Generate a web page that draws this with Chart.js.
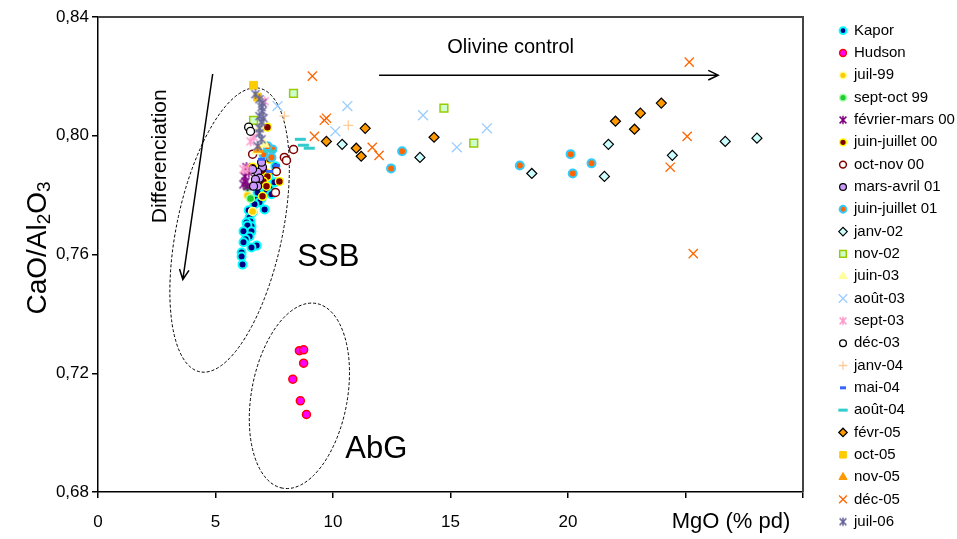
<!DOCTYPE html>
<html><head><meta charset="utf-8">
<script src="https://cdn.jsdelivr.net/npm/chart.js@4.4.0/dist/chart.umd.min.js"></script>
<style>html,body{margin:0;padding:0;background:#fff}canvas{display:block}</style>
</head><body>
<canvas id="c" width="957" height="539"></canvas>
<script>
// ---------------- DATA (MgO %, CaO/Al2O3) ----------------
const xTickLabels = ['0','5','10','15','20','',''];
const yTickLabels = ['0,68','0,72','0,76','0,80','0,84'];

const kapor = [[7.25,0.7867],[7.55,0.7897],[7.30,0.7830],[7.17,0.7819],[7.38,0.7803],[6.96,0.7789],[6.75,0.7786],[6.87,0.7776],[6.41,0.7749],[6.58,0.7742],[6.45,0.7725],[6.49,0.7711],[6.32,0.7708],[6.53,0.7695],[6.36,0.7698],[6.53,0.7678],[6.19,0.7678],[6.45,0.7661],[6.28,0.7651],[6.19,0.7641],[6.75,0.7630],[6.53,0.7624],[6.11,0.7607],[6.11,0.7593],[6.15,0.7566],[7.09,0.7752],[7.09,0.7836],[7.51,0.7843],[6.79,0.7809],[6.66,0.7769]];
const hudson = [[8.57,0.7276],[8.75,0.7279],[8.75,0.7234],[8.29,0.7180],[8.61,0.7107],[8.87,0.7061]];
const juil99 = [[6.58,0.7745],[6.36,0.7799],[6.62,0.7887]];
const septOct99 = [[6.49,0.7789],[6.36,0.7826]];
const fevMars00 = [[6.28,0.7846],[6.24,0.7863],[6.36,0.7830],[6.41,0.7877],[6.32,0.7894],[6.19,0.7836]];
const juinJuil00 = [[7.21,0.8029],[7.72,0.7846],[7.09,0.7880],[7.21,0.7863],[7.04,0.7846],[7.00,0.7796],[7.17,0.7830],[6.83,0.7863],[6.70,0.7843],[6.96,0.7904],[6.58,0.7894],[7.30,0.7921]];
const octNov00 = [[8.32,0.7954],[7.93,0.7927],[8.02,0.7917],[7.59,0.7880],[7.55,0.7809],[6.58,0.7938]];
const marsAvr01 = [[7.00,0.7894],[6.79,0.7877],[6.87,0.7857],[6.70,0.7853],[6.79,0.7830],[6.62,0.7830],[6.58,0.7887],[6.96,0.7911]];
const juinJuil01 = [[7.42,0.7954],[7.04,0.7938],[7.21,0.7965],[7.38,0.7927],[12.47,0.7890],[12.94,0.7948],[17.95,0.7900],[20.11,0.7938],[20.20,0.7873],[21.00,0.7907]];
const janv02 = [[10.39,0.7971],[13.70,0.7927],[18.46,0.7873],[21.72,0.7971],[24.44,0.7934],[26.69,0.7981],[28.04,0.7992],[21.55,0.7863]];
const nov02 = [[8.32,0.8143],[6.62,0.8052],[14.72,0.8093],[15.99,0.7975]];
const juin03 = [[6.87,0.8022],[7.09,0.7971],[6.75,0.7948]];
const aout03 = [[7.64,0.8100],[10.61,0.8100],[10.10,0.8015],[13.83,0.8069],[15.27,0.7961],[16.55,0.8025]];
const sept03 = [[7.09,0.8116],[6.62,0.7995],[6.49,0.7981],[6.36,0.7887],[6.19,0.7887]];
const dec03 = [[6.41,0.8029],[6.49,0.8015]];
const janv04 = [[10.65,0.8035],[7.93,0.8066]];
const mai04 = [[6.96,0.7921],[7.59,0.7900],[7.30,0.7880]];
const aout04 = [[8.61,0.7988],[8.74,0.7968],[8.99,0.7958],[7.30,0.7948]];
const fevr05 = [[9.72,0.7981],[10.99,0.7958],[11.20,0.7931],[11.37,0.8025],[14.30,0.7995],[22.02,0.8049],[22.83,0.8022],[23.08,0.8076],[23.97,0.8110]];
const oct05 = [[6.62,0.8170],[6.79,0.8130]];
const nov05 = [[6.83,0.7954]];
const dec05 = [[9.12,0.8201],[9.63,0.8052],[9.72,0.8059],[9.21,0.7998],[11.67,0.7961],[11.96,0.7934],[25.16,0.8248],[25.07,0.7998],[24.35,0.7894],[25.33,0.7603]];
const juil06 = [[6.87,0.8123],[7.00,0.8110],[6.96,0.8096],[7.00,0.8083],[6.87,0.8066],[7.04,0.8059],[6.96,0.8046],[6.87,0.8025],[6.87,0.8008],[6.96,0.7988],[6.79,0.7965],[6.70,0.8140]];

const seriesNames = ['Kapor','Hudson','juil-99','sept-oct 99','février-mars 00','juin-juillet 00','oct-nov 00','mars-avril 01','juin-juillet 01','janv-02','nov-02','juin-03','août-03','sept-03','déc-03','janv-04','mai-04','août-04','févr-05','oct-05','nov-05','déc-05','juil-06'];
const seriesData = [kapor,hudson,juil99,septOct99,fevMars00,juinJuil00,octNov00,marsAvr01,juinJuil01,janv02,nov02,juin03,aout03,sept03,dec03,janv04,mai04,aout04,fevr05,oct05,nov05,dec05,juil06];

// ---------------- STYLES ----------------
function asterisk(color, r, lw){
  const s = Math.ceil(2*r + lw + 2);
  const c = document.createElement('canvas'); c.width = s; c.height = s;
  const g = c.getContext('2d'); const m = s/2; const d = r*0.8;
  g.strokeStyle = color; g.lineWidth = lw; g.beginPath();
  g.moveTo(m-d,m-d); g.lineTo(m+d,m+d);
  g.moveTo(m-d,m+d); g.lineTo(m+d,m-d);
  g.moveTo(m,m-r); g.lineTo(m,m+r);
  g.stroke(); return c;
}
const seriesStyles = [
  {ps:'circle', r:4, bg:'#000080', bc:'#00FFFF', bw:2},
  {ps:'circle', r:4, bg:'#FF00FF', bc:'#FF0000', bw:1.5},
  {ps:'circle', r:4, bg:'#FFCC00', bc:'#FFFF99', bw:1.5},
  {ps:'circle', r:4, bg:'#22CC33', bc:'#AAFFAA', bw:1.5},
  {ps:'ast', r:5, bg:'#800080', bc:'#800080', bw:1.5},
  {ps:'circle', r:4, bg:'#800000', bc:'#FFFF00', bw:1.5},
  {ps:'circle', r:4, bg:'#FFFFFF', bc:'#800000', bw:1.5},
  {ps:'circle', r:4, bg:'#CC99FF', bc:'#000000', bw:1.2},
  {ps:'circle', r:4, bg:'#FF6600', bc:'#33CCFF', bw:2},
  {ps:'rectRot', r:5, bg:'#CCFFFF', bc:'#000000', bw:1.2},
  {ps:'rect', r:5.5, bg:'#CCFFCC', bc:'#99CC00', bw:1.5},
  {ps:'triangle', r:5.5, bg:'#FFFF99', bc:'#FFFF99', bw:1},
  {ps:'crossRot', r:7, bg:'#99CCFF', bc:'#99CCFF', bw:1.3},
  {ps:'ast', r:5, bg:'#FF99CC', bc:'#FF99CC', bw:1.5},
  {ps:'circle', r:4, bg:'#FFFFFF', bc:'#000000', bw:1.3},
  {ps:'cross', r:5, bg:'#FFCC99', bc:'#FFCC99', bw:1.3},
  {ps:'line', r:3.5, bg:'#3366FF', bc:'#3366FF', bw:3},
  {ps:'line', r:5.5, bg:'#33CCCC', bc:'#33CCCC', bw:3},
  {ps:'rectRot', r:5, bg:'#FF9900', bc:'#000000', bw:1.2},
  {ps:'rect', r:5.5, bg:'#FFCC00', bc:'#FFCC00', bw:1},
  {ps:'triangle', r:5.5, bg:'#FF9900', bc:'#FF9900', bw:1},
  {ps:'crossRot', r:6.5, bg:'#FF6600', bc:'#FF6600', bw:1.3},
  {ps:'ast', r:5, bg:'#666699', bc:'#666699', bw:1.5}
];

const datasets = seriesNames.map((name,i)=>{
  const s = seriesStyles[i];
  const style = s.ps === 'ast' ? asterisk(s.bc, s.r, s.bw) : s.ps;
  return {
    label: name,
    data: seriesData[i].map(p=>({x:p[0], y:p[1]})),
    pointStyle: style,
    pointRadius: s.r,
    pointBackgroundColor: s.bg,
    pointBorderColor: s.bc,
    pointBorderWidth: s.bw,
    showLine: false,
    order: -i
  };
});

// ---------------- ANNOTATIONS ----------------
const ellipses = [
  {top:[6.87,0.8160], bottom:[4.33,0.7205], halfWidth:2.25},
  {top:[9.29,0.7435], bottom:[7.85,0.6813], halfWidth:2.04}
];
const arrows = [
  {from:[11.96,0.8204], to:[26.39,0.8204]},
  {from:[4.88,0.8208], to:[3.61,0.7516]}
];
const labels = [
  {text:'Olivine control', at:[17.56,0.8299], size:20, rot:0},
  {text:'SSB', at:[9.80,0.7590], size:31, rot:0},
  {text:'AbG', at:[11.84,0.6942], size:31, rot:0},
  {text:'Differenciation', at:[2.63,0.7931], size:21, rot:-Math.PI/2}
];
const FONT = "'Liberation Sans', Arial, Helvetica, sans-serif";

const overlay = {
  id:'overlay',
  beforeDatasetsDraw(chart){
    const {ctx, scales:{x:xs, y:ys}} = chart;
    ctx.save();
    ctx.strokeStyle = '#000'; ctx.lineWidth = 1; ctx.setLineDash([3,2]);
    ellipses.forEach(e=>{
      const x1=xs.getPixelForValue(e.top[0]), y1=ys.getPixelForValue(e.top[1]);
      const x2=xs.getPixelForValue(e.bottom[0]), y2=ys.getPixelForValue(e.bottom[1]);
      const a=Math.hypot(x2-x1,y2-y1)/2, ang=Math.atan2(y2-y1,x2-x1);
      const b=Math.abs(xs.getPixelForValue(e.halfWidth)-xs.getPixelForValue(0));
      ctx.beginPath(); ctx.ellipse((x1+x2)/2,(y1+y2)/2,a,b,ang,0,Math.PI*2); ctx.stroke();
    });
    ctx.restore();
  },
  afterDraw(chart){
    const {ctx, chartArea:ca, scales:{x:xs, y:ys}} = chart;
    ctx.save();
    ctx.strokeStyle = '#444'; ctx.lineWidth = 2;
    ctx.beginPath(); ctx.moveTo(ca.left, ca.top); ctx.lineTo(ca.right, ca.top); ctx.lineTo(ca.right, ca.bottom); ctx.stroke();
    ctx.strokeStyle = '#000'; ctx.lineWidth = 1.5;
    arrows.forEach(a=>{
      const x1=xs.getPixelForValue(a.from[0]), y1=ys.getPixelForValue(a.from[1]);
      const x2=xs.getPixelForValue(a.to[0]), y2=ys.getPixelForValue(a.to[1]);
      const ang=Math.atan2(y2-y1,x2-x1), L=11, w=0.45;
      ctx.beginPath(); ctx.moveTo(x1,y1); ctx.lineTo(x2,y2);
      ctx.moveTo(x2-L*Math.cos(ang-w), y2-L*Math.sin(ang-w)); ctx.lineTo(x2,y2);
      ctx.lineTo(x2-L*Math.cos(ang+w), y2-L*Math.sin(ang+w)); ctx.stroke();
    });
    ctx.fillStyle = '#000'; ctx.textAlign = 'center'; ctx.textBaseline = 'middle';
    labels.forEach(l=>{
      ctx.save();
      ctx.translate(xs.getPixelForValue(l.at[0]), ys.getPixelForValue(l.at[1]));
      ctx.rotate(l.rot);
      ctx.font = l.size + 'px ' + FONT;
      ctx.fillText(l.text, 0, 0);
      ctx.restore();
    });
    ctx.font = '22px ' + FONT;
    ctx.fillText('MgO (% pd)', 731, 522);
    ctx.save();
    ctx.translate(38, 248); ctx.rotate(-Math.PI/2);
    const big = '28px ' + FONT, small = '19px ' + FONT;
    const parts = [['CaO/Al',big,0],['2',small,7],['O',big,0],['3',small,7]];
    let tw = 0; parts.forEach(p=>{ctx.font=p[1]; tw += ctx.measureText(p[0]).width;});
    let px = -tw/2; ctx.textAlign='left';
    parts.forEach(p=>{ctx.font=p[1]; ctx.fillText(p[0], px, p[2]); px += ctx.measureText(p[0]).width;});
    ctx.restore();
    ctx.textAlign = 'left'; ctx.textBaseline = 'middle'; ctx.font = '15px ' + FONT;
    seriesNames.forEach((name,i)=>{
      const s = seriesStyles[i];
      const y = 30.7 + i*22.32, x = 843;
      ctx.save();
      ctx.fillStyle = s.bg; ctx.strokeStyle = s.bc; ctx.lineWidth = s.bw;
      const style = s.ps === 'ast' ? asterisk(s.bc, s.r*0.85, s.bw) : s.ps;
      Chart.helpers.drawPoint(ctx, {pointStyle: style, radius: s.r*0.85, borderWidth: s.bw, rotation: 0}, x, y);
      ctx.restore();
      ctx.fillStyle = '#000';
      ctx.fillText(name, 854, y);
    });
    ctx.restore();
  }
};

Chart.defaults.font.family = FONT;
Chart.defaults.color = '#000';

new Chart(document.getElementById('c'), {
  type: 'scatter',
  data: {datasets},
  options: {
    responsive: false, animation: false, devicePixelRatio: 1, events: [],
    layout: {padding: {left: 0, right: 154, top: 17, bottom: 0}},
    plugins: {legend: {display: false}, tooltip: {enabled: false}},
    scales: {
      x: {
        type: 'linear', min: 0, max: 30,
        afterFit(s){ s.height = 47; },
        ticks: {stepSize: 5, font: {size: 17}, padding: 14, maxRotation: 0, autoSkip: false,
                callback: (v, i) => xTickLabels[i]},
        grid: {display: true, drawOnChartArea: false, drawTicks: true, tickLength: 6, color: '#000', lineWidth: 1.5},
        border: {display: true, color: '#000', width: 1.5}
      },
      y: {
        type: 'linear', min: 0.68, max: 0.84,
        afterFit(s){ s.width = 98; },
        ticks: {stepSize: 0.04, font: {size: 17}, padding: 3, autoSkip: false,
                callback: (v, i) => yTickLabels[i]},
        grid: {display: true, drawOnChartArea: false, drawTicks: true, tickLength: 6, color: '#000', lineWidth: 1.5},
        border: {display: true, color: '#000', width: 1.5}
      }
    }
  },
  plugins: [overlay]
});
</script>
</body></html>
